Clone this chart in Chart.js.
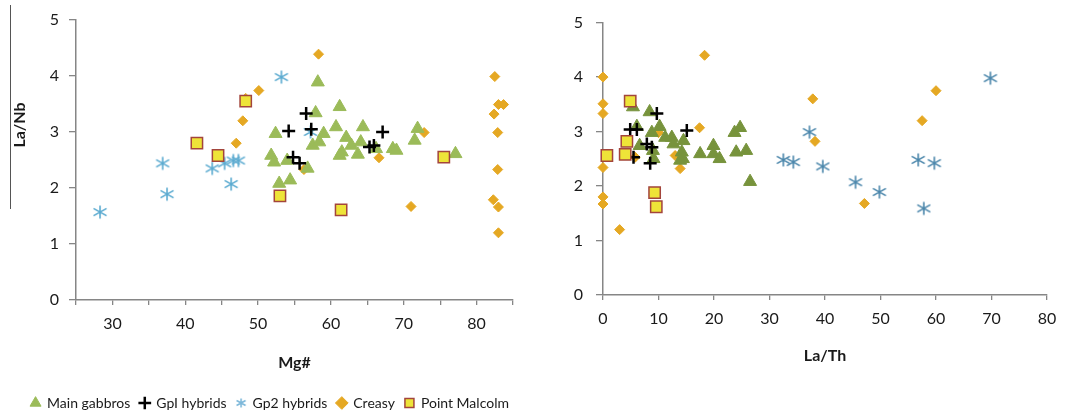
<!DOCTYPE html>
<html>
<head>
<meta charset="utf-8">
<script src="https://cdn.jsdelivr.net/npm/chart.js@4.4.0/dist/chart.umd.min.js"></script>
<style>
  html, body { margin: 0; padding: 0; background: #fff; overflow: hidden; width: 1077px; height: 417px; }
  #left { position: absolute; left: 0; top: 0; }
  #right { position: absolute; left: 540px; top: 0; }
  #edge { position: absolute; left: 10px; top: 5px; width: 1px; height: 204px; background: #555; }
</style>
</head>
<body>
<div id="edge"></div>
<canvas id="left" width="540" height="420"></canvas>
<canvas id="right" width="537" height="380"></canvas>
<script>
// Main gabbros
var gabbroMg   = [58.2, 61.2, 57.9, 52.4, 60.7, 64.4, 59.0, 71.9, 62.1, 57.5, 58.4, 62.8, 64.1, 61.5,
                  63.7, 61.2, 68.5, 69.0, 71.5, 77.1, 51.8, 52.2, 54.0, 56.8, 66.2, 52.9, 54.4];
var gabbroLaNb = [3.89, 3.45, 3.34, 2.97, 3.09, 3.09, 2.97, 3.06, 2.90, 2.76, 2.82, 2.76, 2.82, 2.64,
                  2.60, 2.58, 2.70, 2.67, 2.85, 2.61, 2.58, 2.46, 2.49, 2.35, 2.70, 2.08, 2.14];
var gabbroLaTh = [5.4, 8.4, 6.1, 10.2, 8.8, 12.4, 11.2, 14.5, 12.7, 6.6, 9.0, 9.1, 14.2, 14.4,
                  17.5, 19.9, 19.9, 21.0, 23.7, 24.7, 24.0, 25.8, 26.5, 13.9];
var gabbroLaNb2 = [3.45, 3.36, 3.09, 3.09, 2.98, 2.89, 2.89, 2.83, 2.77, 2.74, 2.65, 2.50, 2.62, 2.50,
                   2.59, 2.74, 2.59, 2.50, 2.98, 3.07, 2.62, 2.65, 2.08, 2.47];

// GpI hybrids
var gp1Mg    = [56.6, 54.2, 67.1, 54.8, 55.7, 65.3, 65.9, 57.3];
var gp1LaNb  = [3.33, 3.02, 3.00, 2.55, 2.44, 2.73, 2.76, 3.05];
var gp1LaTh  = [9.7, 4.9, 6.1, 15.1, 7.9, 8.8, 5.5, 8.5];
var gp1LaNb2 = [3.33, 3.04, 3.04, 3.02, 2.77, 2.71, 2.53, 2.42];

// Gp2 hybrids
var gp2Mg    = [53.2, 57.2, 36.9, 43.7, 45.4, 46.6, 47.3, 46.3, 37.5, 28.3];
var gp2LaNb  = [3.98, 3.00, 2.44, 2.35, 2.44, 2.49, 2.49, 2.07, 1.89, 1.57];
var gp2LaTh  = [69.8, 37.2, 32.5, 34.3, 39.6, 56.8, 59.7, 45.5, 49.8, 57.8];
var gp2LaNb2 = [3.98, 2.99, 2.48, 2.44, 2.36, 2.48, 2.42, 2.07, 1.89, 1.59];

// Creasy
var creasyMg    = [58.3, 50.1, 47.9, 47.0, 48.3, 82.5, 83.0, 83.7, 82.4, 82.9, 72.8, 66.6, 82.9, 56.3,
                   82.3, 83.0, 83.0, 71.0];
var creasyLaNb  = [4.39, 3.74, 3.20, 2.80, 3.60, 3.99, 3.49, 3.49, 3.32, 2.99, 2.99, 2.54, 2.33, 2.33,
                   1.79, 1.66, 1.20, 1.67];
var creasyLaTh  = [0, 0, 0, 0, 0, 0, 18.3, 17.4, 37.8, 38.2, 60.0, 57.5, 13.9, 5.8, 13.0, 3.0, 47.1, 10.0];
var creasyLaNb2 = [4.00, 3.51, 3.33, 2.34, 1.80, 1.67, 4.40, 3.07, 3.60, 2.82, 3.75, 3.20, 2.32, 2.53,
                   2.56, 1.20, 1.68, 2.98];

// Point Malcolm
var malcolmMg    = [48.3, 41.6, 44.5, 75.5, 53.0, 61.4];
var malcolmLaNb  = [3.55, 2.80, 2.58, 2.55, 1.86, 1.61];
var malcolmLaTh  = [4.9, 4.3, 4.0, 0.7, 9.3, 9.6];
var malcolmLaNb2 = [3.56, 2.82, 2.58, 2.56, 1.88, 1.62];

var seriesNames = ['Main gabbros', 'GpI hybrids', 'Gp2 hybrids', 'Creasy', 'Point Malcolm'];
var yTicks = [0, 1, 2, 3, 4, 5];

var axisGray = '#868686';
Chart.defaults.font.family = 'Lato, sans-serif';
Chart.defaults.color = '#1a1a1a';

function pts(xs, ys) {
  return xs.map(function (x, i) { return { x: x, y: ys[i] }; });
}

// six-armed asterisk marker, drawn once per colour
function asterisk(color, size) {
  var c = document.createElement('canvas');
  c.width = size; c.height = size;
  var g = c.getContext('2d');
  var m = size / 2, a = size / 2 - 1.5, d = a * 0.8;
  g.strokeStyle = color;
  g.lineWidth = 1.6;
  g.beginPath();
  g.moveTo(m, m - a); g.lineTo(m, m + a);
  g.moveTo(m - a, m - d * 0.7); g.lineTo(m + a, m + d * 0.7);
  g.moveTo(m + a, m - d * 0.7); g.lineTo(m - a, m + d * 0.7);
  g.stroke();
  return c;
}

function datasets(c, xs, ys) {
  return [
    { label: seriesNames[0], data: pts(xs[0], ys[0]), order: 2, pointStyle: 'triangle', pointRadius: 7.5,
      backgroundColor: c.gabbro, borderColor: c.gabbro, borderWidth: 1 },
    { label: seriesNames[1], data: pts(xs[1], ys[1]), order: 1, pointStyle: 'cross', pointRadius: 6.5,
      backgroundColor: '#000', borderColor: '#000', borderWidth: 2.5 },
    { label: seriesNames[2], data: pts(xs[2], ys[2]), order: 3, pointStyle: asterisk(c.gp2, 16),
      backgroundColor: c.gp2, borderColor: c.gp2, borderWidth: 1.5 },
    { label: seriesNames[3], data: pts(xs[3], ys[3]), order: 4, pointStyle: 'rectRot', pointRadius: 5,
      backgroundColor: '#e5a823', borderColor: '#e5a823', borderWidth: 1 },
    { label: seriesNames[4], data: pts(xs[4], ys[4]), order: 0, pointStyle: 'rect', pointRadius: 8,
      backgroundColor: '#eee438', borderColor: '#a3453c', borderWidth: 1.5 }
  ];
}

function axisBase() {
  return {
    type: 'linear',
    grid: { display: true, drawOnChartArea: false, drawTicks: true, color: axisGray, lineWidth: 1.3 },
    border: { display: true, color: axisGray, width: 1.5 }
  };
}

function makeOptions(o) {
  var x = axisBase(), y = axisBase();
  x.min = o.xMin; x.max = o.xMax;
  x.grid.tickLength = 5;
  x.ticks = { stepSize: o.xStep, autoSkip: false, maxRotation: 0, padding: 9,
              font: { size: 16 }, callback: o.xLabel };
  x.title = { display: true, text: o.xTitle, font: { size: 16, weight: 'bold' },
              padding: { top: 0, bottom: o.titlePad } };
  x.afterFit = function (s) { s.height = o.xHeight; };

  y.min = 0; y.max = 5;
  y.grid.tickLength = 7;
  y.afterBuildTicks = function (s) { s.ticks = yTicks.map(function (v) { return { value: v }; }); };
  y.ticks = { padding: o.yPad, font: { size: 16 } };
  y.afterFit = function (s) { s.width = o.yWidth; };

  var scales = { x: x, y: y };
  if (o.rightGap) {
    // empty right-hand axis that only reserves space after the plot
    scales.gap = { type: 'linear', position: 'right', display: true,
                   grid: { display: false }, border: { display: false }, ticks: { display: false },
                   afterFit: function (s) { s.width = o.rightGap; } };
  }

  return {
    responsive: false,
    animation: false,
    events: [],
    layout: { padding: o.padding },
    elements: { point: { hoverRadius: 0 } },
    datasets: { scatter: { clip: false } },
    scales: scales,
    plugins: {
      tooltip: { enabled: false },
      legend: o.legend,
      sideTitle: o.sideTitle || {}
    }
  };
}

// rotated y title placed off-centre
var sideTitle = {
  id: 'sideTitle',
  afterDraw: function (chart, args, opts) {
    if (!opts.text) return;
    var ctx = chart.ctx;
    ctx.save();
    ctx.translate(opts.x, opts.y);
    ctx.rotate(-Math.PI / 2);
    ctx.font = 'bold 16px Lato, sans-serif';
    ctx.fillStyle = '#1a1a1a';
    ctx.textAlign = 'center';
    ctx.textBaseline = 'middle';
    ctx.fillText(opts.text, 0, 0);
    ctx.restore();
  }
};

new Chart(document.getElementById('left'), {
  type: 'scatter',
  data: {
    datasets: datasets({ gabbro: '#9bbb59', gp2: '#5aaad0' },
      [gabbroMg, gp1Mg, gp2Mg, creasyMg, malcolmMg],
      [gabbroLaNb, gp1LaNb, gp2LaNb, creasyLaNb, malcolmLaNb])
  },
  options: makeOptions({
    xMin: 25, xMax: 85, xStep: 5, xTitle: 'Mg#', titlePad: 14,
    xLabel: function (v) { return v % 10 === 0 ? v : ''; },
    xHeight: 86, yWidth: 76, yPad: 10, rightGap: 27,
    padding: { left: 0, right: 0, top: 20, bottom: 0 },
    legend: {
      display: true, position: 'bottom',
      labels: {
        usePointStyle: true, boxWidth: 9, boxHeight: 9, padding: 10,
        color: '#1a1a1a', font: { size: 14 },
        sort: function (a, b) { return a.datasetIndex - b.datasetIndex; },
        generateLabels: function (chart) {
          var items = Chart.defaults.plugins.legend.labels.generateLabels(chart);
          items.forEach(function (it) {
            if (it.pointStyle instanceof HTMLCanvasElement) it.pointStyle = asterisk('#7db8da', 12);
          });
          return items;
        }
      }
    },
    sideTitle: { text: 'La/Nb', x: 20, y: 125 }
  }),
  plugins: [sideTitle]
});

new Chart(document.getElementById('right'), {
  type: 'scatter',
  data: {
    datasets: datasets({ gabbro: '#77933c', gp2: '#4a86ab' },
      [gabbroLaTh, gp1LaTh, gp2LaTh, creasyLaTh, malcolmLaTh],
      [gabbroLaNb2, gp1LaNb2, gp2LaNb2, creasyLaNb2, malcolmLaNb2])
  },
  options: makeOptions({
    xMin: 0, xMax: 80, xStep: 10, xTitle: 'La/Th', titlePad: 15,
    xLabel: function (v) { return v; },
    xHeight: 85, yWidth: 63, yPad: 13,
    padding: { left: 0, right: 30, top: 15, bottom: 0 },
    legend: { display: false }
  }),
  plugins: [sideTitle]
});
</script>
</body>
</html>
